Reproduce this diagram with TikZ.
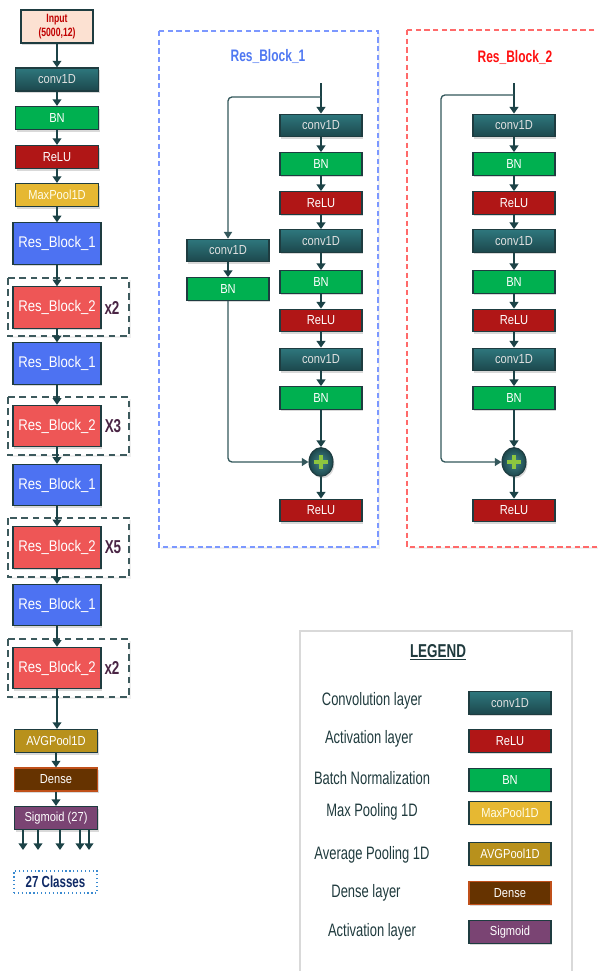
\documentclass[tikz,border=0pt]{standalone}
\usepackage{fontspec}
\setmainfont{Liberation Sans}
\newfontfamily\boxfont{Liberation Sans}[FakeStretch=0.85]
\newfontfamily\narfont{Liberation Sans}[FakeStretch=0.72]
\usetikzlibrary{arrows.meta,shadows,shapes.geometric}
\definecolor{convT}{HTML}{2E777D}
\definecolor{convB}{HTML}{1C474C}
\definecolor{bnG}{HTML}{00B050}
\definecolor{reluR}{HTML}{B01616}
\definecolor{maxY}{HTML}{E6B832}
\definecolor{avgY}{HTML}{B8911C}
\definecolor{denseB}{HTML}{663300}
\definecolor{denseE}{HTML}{C0501A}
\definecolor{sigP}{HTML}{7A4473}
\definecolor{rbA}{HTML}{4D72F2}
\definecolor{rbB}{HTML}{EE5656}
\definecolor{edgec}{HTML}{1E3C40}
\definecolor{arrc}{HTML}{1C4347}
\definecolor{skipc}{HTML}{34585C}
\definecolor{multc}{HTML}{4A2545}
\definecolor{inpF}{HTML}{FCE1D2}
\definecolor{inpT}{HTML}{C00000}
\definecolor{dashc}{HTML}{3D5A5D}
\definecolor{pAc}{HTML}{7C98FF}
\definecolor{pBc}{HTML}{FF6A6A}
\definecolor{tAc}{HTML}{4F78F2}
\definecolor{tBc}{HTML}{FF1010}
\definecolor{legc}{HTML}{1F3A3D}
\definecolor{navyc}{HTML}{0F2A66}
\definecolor{clsb}{HTML}{3A8AD0}
\definecolor{plusg}{HTML}{8DC63F}
\tikzset{
  lay/.style={draw=edgec, line width=0.8pt, minimum width=61.5pt, minimum height=17pt,
    inner sep=0pt, font=\boxfont\fontsize{9.8}{10}\selectfont, text=white,
    drop shadow={shadow xshift=1pt, shadow yshift=-1.6pt, opacity=0.3}},
  convbox/.style={lay, top color=convT, bottom color=convB, text=white!88!black},
  bnbox/.style={lay, fill=bnG},
  relubox/.style={lay, fill=reluR},
  maxbox/.style={lay, fill=maxY, text=white!92!yellow},
  avgbox/.style={lay, fill=avgY},
  densebox/.style={lay, fill=denseB, draw=denseE},
  sigbox/.style={lay, fill=sigP},
  colw/.style={minimum width=62.25pt, minimum height=17.25pt},
  rbone/.style={lay, fill=rbA, minimum width=66pt, minimum height=31pt,
    font=\boxfont\fontsize{11.6}{12}\selectfont},
  rbtwo/.style={rbone, fill=rbB},
  grp/.style={draw=dashc, line width=1.1pt, dash pattern=on 5pt off 3.5pt, fill=white,
    drop shadow={shadow xshift=1.2pt, shadow yshift=-1.8pt, opacity=0.12}},
  mult/.style={font=\narfont\bfseries\fontsize{14}{14}\selectfont, text=multc, inner sep=0pt},
  arr/.style={draw=arrc, line width=1.6pt, -{Triangle[width=6.5pt,length=5pt]}},
  skipl/.style={draw=skipc, line width=1pt, rounded corners=3pt, -{Triangle[width=6pt,length=5pt]}},
  panelA/.style={draw=pAc, line width=0.9pt, dash pattern=on 4pt off 2.5pt, fill=white,
    drop shadow={shadow xshift=1.2pt, shadow yshift=-1.8pt, opacity=0.12}},
  panelB/.style={panelA, draw=pBc},
  ptitle/.style={font=\narfont\bfseries\fontsize{12.5}{13}\selectfont},
  plusn/.style={ellipse, draw=edgec, line width=0.8pt, minimum width=18pt, minimum height=21.5pt,
    inner sep=0pt, inner color=convT!90!white, outer color=convB,
    drop shadow={shadow xshift=1pt, shadow yshift=-1.5pt, opacity=0.3}},
  plusbar/.style={draw=plusg, line width=3pt},
  leglab/.style={font=\narfont\fontsize{13.5}{14}\selectfont, text=legc},
}
\begin{document}
\begin{tikzpicture}[x=0.75pt,y=-0.75pt]
\useasboundingbox (0,0) rectangle (598,971);
\clip (0,0) rectangle (598,971);

% ---------------- panels ----------------
\draw[panelA] (159,31) rectangle (378,547);
\draw[panelB] (407,30) rectangle (612,547);
\node[ptitle, text=tAc] (titA) at (268,56) {Res\_Block\_1};
\node[ptitle, text=tBc] (titB) at (515,57) {Res\_Block\_2};

% ---------------- left column groups ----------------
\draw[grp] (8,278) rectangle (129,336);
\draw[grp] (8,397) rectangle (129,455);
\draw[grp] (8,518) rectangle (129,577);
\draw[grp] (8,639) rectangle (129,697);

% ---------------- left column ----------------
\node[lay, fill=inpF, text=inpT, minimum width=54pt, minimum height=24.75pt, align=center,
  font=\narfont\bfseries\fontsize{9}{10}\selectfont] (inp) at (57,26.5) {Input\\(5000,12)};
\node[convbox, colw] (l1) at (57,79.5) {conv1D};
\node[bnbox, colw] (l2) at (57,118) {BN};
\node[relubox, colw] (l3) at (57,157) {ReLU};
\node[maxbox, colw] (l4) at (57,195) {MaxPool1D};
\node[rbone] (r1) at (57,243.5) {Res\_Block\_1};
\node[rbtwo] (r2) at (57,307.5) {Res\_Block\_2};
\node[rbone] (r3) at (57,363.5) {Res\_Block\_1};
\node[rbtwo] (r4) at (57,426) {Res\_Block\_2};
\node[rbone] (r5) at (57,485) {Res\_Block\_1};
\node[rbtwo] (r6) at (57,547.5) {Res\_Block\_2};
\node[rbone] (r7) at (57,605) {Res\_Block\_1};
\node[rbtwo] (r8) at (57,668) {Res\_Block\_2};
\node[mult] (m1) at (112,307.5) {x2};
\node[mult] (m2) at (113,426) {X3};
\node[mult] (m3) at (113,547.5) {X5};
\node[mult] (m4) at (112,668) {x2};
\node[avgbox, colw] (l5) at (56,741) {AVGPool1D};
\node[densebox, colw] (l6) at (56,779.5) {Dense};
\node[sigbox, colw] (l7) at (56,818) {Sigmoid (27)};
\node[draw=clsb, line width=0.9pt, dotted, minimum width=62.25pt, minimum height=16.5pt, inner sep=0pt,
  font=\narfont\bfseries\fontsize{12}{12}\selectfont, text=navyc] (cls) at (55.5,882) {27 Classes};

\draw[arr] (inp) -- (l1);
\draw[arr] (l1) -- (l2);
\draw[arr] (l2) -- (l3);
\draw[arr] (l3) -- (l4);
\draw[arr] (l4) -- (r1);
\draw[arr] (r1) -- (r2);
\draw[arr] (r2) -- (r3);
\draw[arr] (r3) -- (r4);
\draw[arr] (r4) -- (r5);
\draw[arr] (r5) -- (r6);
\draw[arr] (r6) -- (r7);
\draw[arr] (r7) -- (r8);
\draw[arr] (r8.south) -- (r8.south |- l5.north);
\draw[arr] (l5) -- (l6);
\draw[arr] (l6) -- (l7);
\coordinate (o1) at (23,850);
\coordinate (o2) at (38,850);
\coordinate (o3) at (60,850);
\coordinate (o4) at (80,850);
\coordinate (o5) at (89,850);
\foreach \o in {o1,o2,o3,o4,o5} {\draw[arr] (l7.south -| \o) -- (\o);}

% ---------------- Res_Block_1 panel ----------------
\node[convbox] (a1) at (321,125.5) {conv1D};
\node[bnbox] (a2) at (321,164) {BN};
\node[relubox] (a3) at (321,203) {ReLU};
\node[convbox] (a4) at (321,241) {conv1D};
\node[bnbox] (a5) at (321,282) {BN};
\node[relubox] (a6) at (321,320.5) {ReLU};
\node[convbox] (a7) at (321,359.5) {conv1D};
\node[bnbox] (a8) at (321,398) {BN};
\node[plusn] (ap) at (321,462) {};
\draw[plusbar] ([xshift=-5pt]ap.center) -- ([xshift=5pt]ap.center);
\draw[plusbar] ([yshift=-5pt]ap.center) -- ([yshift=5pt]ap.center);
\node[relubox] (a9) at (321,510.5) {ReLU};
\node[convbox] (as1) at (228,250.5) {conv1D};
\node[bnbox] (as2) at (228,289) {BN};
\coordinate (ain) at (321,83);
\coordinate (abr) at (321,97);
\draw[arr] (ain) -- (a1);
\draw[arr] (a1) -- (a2);
\draw[arr] (a2) -- (a3);
\draw[arr] (a3) -- (a4);
\draw[arr] (a4) -- (a5);
\draw[arr] (a5) -- (a6);
\draw[arr] (a6) -- (a7);
\draw[arr] (a7) -- (a8);
\draw[arr] (a8) -- (ap);
\draw[arr] (ap) -- (a9);
\draw[skipl] (abr) -| (as1);
\draw[arr] (as1) -- (as2);
\draw[skipl] (as2) |- (ap);

% ---------------- Res_Block_2 panel ----------------
\node[convbox] (b1) at (514,125.5) {conv1D};
\node[bnbox] (b2) at (514,164) {BN};
\node[relubox] (b3) at (514,203) {ReLU};
\node[convbox] (b4) at (514,241) {conv1D};
\node[bnbox] (b5) at (514,282) {BN};
\node[relubox] (b6) at (514,320.5) {ReLU};
\node[convbox] (b7) at (514,359.5) {conv1D};
\node[bnbox] (b8) at (514,398) {BN};
\node[plusn] (bp) at (514,462) {};
\draw[plusbar] ([xshift=-5pt]bp.center) -- ([xshift=5pt]bp.center);
\draw[plusbar] ([yshift=-5pt]bp.center) -- ([yshift=5pt]bp.center);
\node[relubox] (b9) at (514,510.5) {ReLU};
\coordinate (bin) at (514,83);
\coordinate (bbr) at (514,95);
\coordinate (bk) at (441,95);
\draw[arr] (bin) -- (b1);
\draw[arr] (b1) -- (b2);
\draw[arr] (b2) -- (b3);
\draw[arr] (b3) -- (b4);
\draw[arr] (b4) -- (b5);
\draw[arr] (b5) -- (b6);
\draw[arr] (b6) -- (b7);
\draw[arr] (b7) -- (b8);
\draw[arr] (b8) -- (bp);
\draw[arr] (bp) -- (b9);
\draw[skipl] (bbr) -- (bk) |- (bp);

% ---------------- legend ----------------
\draw[draw=black!15, line width=1.2pt] (300,980) -- (300,631) -- (572,631) -- (572,980);
\node[font=\narfont\bfseries\fontsize{14}{14}\selectfont, text=legc] (legt) at (438,652) {\underline{LEGEND}};
\node[leglab] (g1) at (372,701) {Convolution layer};
\node[leglab] (g2) at (369,739) {Activation layer};
\node[leglab] (g3) at (372,778) {Batch Normalization};
\node[leglab] (g4) at (372,812) {Max Pooling 1D};
\node[leglab] (g5) at (372,855) {Average Pooling 1D};
\node[leglab] (g6) at (366,893) {Dense layer};
\node[leglab] (g7) at (372,932) {Activation layer};
\node[convbox] (k1) at (510,703) {conv1D};
\node[relubox] (k2) at (510,741) {ReLU};
\node[bnbox] (k3) at (510,780) {BN};
\node[maxbox] (k4) at (510,813) {MaxPool1D};
\node[avgbox] (k5) at (510,854) {AVGPool1D};
\node[densebox] (k6) at (510,893) {Dense};
\node[sigbox] (k7) at (510,932) {Sigmoid};
\end{tikzpicture}
\end{document}
